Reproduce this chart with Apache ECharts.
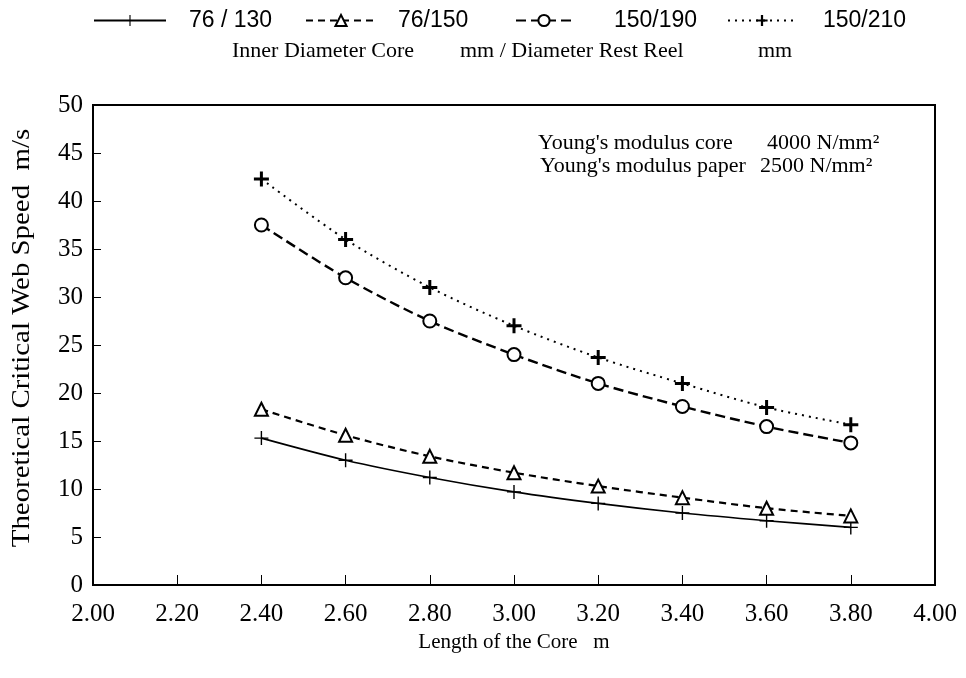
<!DOCTYPE html>
<html><head><meta charset="utf-8">
<script src="https://cdn.jsdelivr.net/npm/echarts@6/dist/echarts.min.js"></script>
<style>html,body{margin:0;padding:0;background:#fff}#c{width:966px;height:678px}</style>
</head><body><div id="c"></div>
<script>
const lengths = [2.4, 2.6, 2.8, 3.0, 3.2, 3.4, 3.6, 3.8];
const s76_130 = [15.3, 13.0, 11.2, 9.7, 8.5, 7.5, 6.7, 6.0];
const s76_150 = [18.3, 15.6, 13.4, 11.7, 10.3, 9.1, 8.0, 7.2];
const s150_190 = [37.5, 32.0, 27.5, 24.0, 21.0, 18.6, 16.5, 14.8];
const s150_210 = [42.3, 36.0, 31.0, 27.0, 23.7, 21.0, 18.5, 16.7];
const seriesNames = ['76 / 130', '76/150', '150/190', '150/210'];
const subtitleParts = ['Inner Diameter Core', 'mm / Diameter Rest Reel', 'mm'];
const noteLines = [["Young's modulus core", '4000 N/mm\u00B2'], ["Young's modulus paper", '2500 N/mm\u00B2']];
const yAxisTitle = 'Theoretical Critical Web Speed  m/s';
const xAxisTitle = 'Length of the Core   m';

const serif = '"Liberation Serif", "DejaVu Serif", serif';
const sans = '"Liberation Sans", Arial, sans-serif';
const thinPlus = 'path://M4.5,0H5.5V4.5H10V5.5H5.5V10H4.5V5.5H0V4.5H4.5Z';
const boldPlus = 'path://M4,0H6V4H10V6H6V10H4V6H0V4H4Z';

function pairs(arr){ return lengths.map((x,i)=>[x, arr[i]]); }

// legend layout: [left, iconWidth, textGap]
const legendLayout = [[93, 72, 23], [305, 70, 22], [515, 56, 42], [727, 68, 27]];
const legends = seriesNames.map((n, i) => ({
  data: [n], top: 9, left: legendLayout[i][0], padding: 0,
  itemWidth: legendLayout[i][1], itemHeight: 14,
  textStyle: { fontFamily: sans, fontSize: 23, color: '#000', padding: [0, 0, 0, legendLayout[i][2] - 5] }
}));

const chart = echarts.init(document.getElementById('c'));
chart.setOption({
  animation: false,
  backgroundColor: '#fff',
  legend: legends,
  graphic: [
    { type: 'text', left: 232, top: 40, style: { text: subtitleParts[0], font: '22px ' + serif, fill: '#000' } },
    { type: 'text', left: 460, top: 40, style: { text: subtitleParts[1], font: '22px ' + serif, fill: '#000' } },
    { type: 'text', left: 758, top: 40, style: { text: subtitleParts[2], font: '22px ' + serif, fill: '#000' } },
    { type: 'text', left: 538, top: 132, style: { text: noteLines[0][0], font: '22px ' + serif, fill: '#000' } },
    { type: 'text', left: 767, top: 132, style: { text: noteLines[0][1], font: '22px ' + serif, fill: '#000' } },
    { type: 'text', left: 540, top: 155, style: { text: noteLines[1][0], font: '22px ' + serif, fill: '#000' } },
    { type: 'text', left: 760, top: 155, style: { text: noteLines[1][1], font: '22px ' + serif, fill: '#000' } },
    { type: 'text', x: 22, y: 338, rotation: Math.PI / 2, scaleX: 1.11, scaleY: 1,
      style: { text: yAxisTitle, font: '26px ' + serif, fill: '#000', textAlign: 'center', textVerticalAlign: 'middle' } }
  ],
  grid: { left: 93, right: 31, top: 105, bottom: 93, show: true, borderColor: '#000', borderWidth: 2, backgroundColor: 'transparent' },
  xAxis: {
    type: 'value', min: 2.0, max: 4.0, interval: 0.2,
    name: xAxisTitle, nameLocation: 'middle', nameGap: 45,
    nameTextStyle: { fontFamily: serif, fontSize: 21, color: '#000' },
    axisLine: { show: true, lineStyle: { color: '#000', width: 2 } },
    axisTick: { show: true, inside: true, length: 10, lineStyle: { color: '#000', width: 1 } },
    axisLabel: { fontFamily: serif, fontSize: 25, color: '#000', margin: 17, formatter: v => v.toFixed(2) },
    splitLine: { show: false }
  },
  yAxis: {
    type: 'value', min: 0, max: 50, interval: 5,
    axisLine: { show: true, lineStyle: { color: '#000', width: 2 } },
    axisTick: { show: true, inside: true, length: 8, lineStyle: { color: '#000', width: 1 } },
    axisLabel: { fontFamily: serif, fontSize: 25, color: '#000', margin: 10 },
    splitLine: { show: false }
  },
  series: [
    { name: seriesNames[0], type: 'line', smooth: 0.3, data: pairs(s76_130),
      symbol: thinPlus, symbolSize: 14,
      itemStyle: { color: '#000', borderWidth: 0 },
      lineStyle: { color: '#000', width: 1.6, type: 'solid' } },
    { name: seriesNames[1], type: 'line', smooth: 0.3, data: pairs(s76_150),
      symbol: 'triangle', symbolSize: 13,
      itemStyle: { color: '#fff', borderColor: '#000', borderWidth: 2 },
      lineStyle: { color: '#000', width: 2.2, type: [7, 5] } },
    { name: seriesNames[2], type: 'line', smooth: 0.3, data: pairs(s150_190),
      symbol: 'circle', symbolSize: 13,
      itemStyle: { color: '#fff', borderColor: '#000', borderWidth: 2 },
      lineStyle: { color: '#000', width: 2.4, type: [10, 5] } },
    { name: seriesNames[3], type: 'line', smooth: 0.3, data: pairs(s150_210),
      symbol: boldPlus, symbolSize: 15,
      itemStyle: { color: '#000', borderWidth: 0 },
      lineStyle: { color: '#000', width: 2, type: [2, 5] } }
  ]
});
</script></body></html>
